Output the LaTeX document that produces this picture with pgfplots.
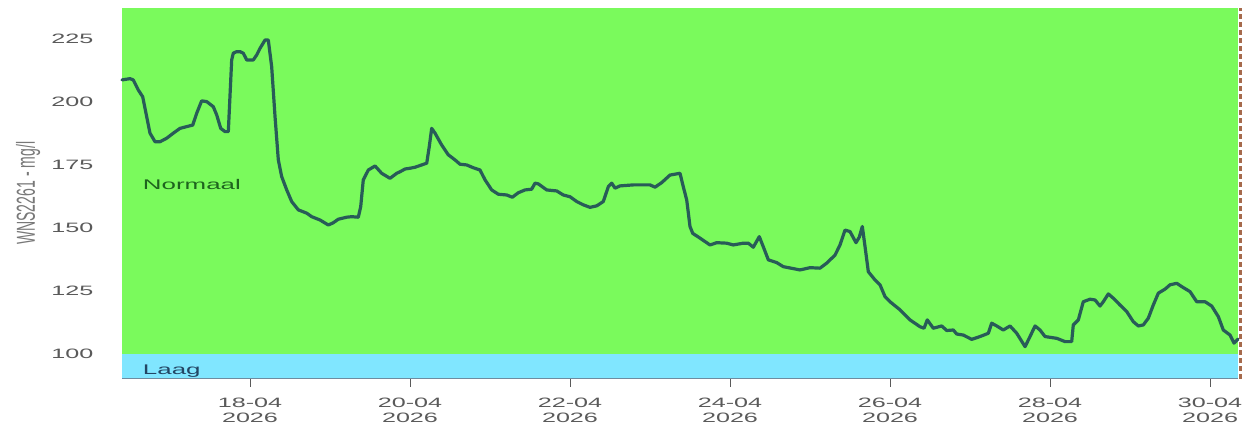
\documentclass[border=0pt]{standalone}
\usepackage{fontspec}
\setmainfont{Liberation Sans}
\newfontfamily\widefont[FakeStretch=1.85]{Liberation Sans}
\newfontfamily\narrowfont[FakeStretch=0.54]{Liberation Sans}
\usepackage{pgfplots}
\pgfplotsset{compat=1.18}
\definecolor{bgnormal}{RGB}{122,250,92}
\definecolor{bglaag}{RGB}{128,230,255}
\definecolor{serie}{RGB}{40,92,88}
\definecolor{labelgray}{RGB}{90,90,90}
\definecolor{ylabgray}{RGB}{120,120,120}
\definecolor{normaltext}{RGB}{30,100,30}
\definecolor{laagtext}{RGB}{35,70,100}
\definecolor{axisline}{RGB}{110,140,160}
\definecolor{nowline}{RGB}{150,80,45}
\begin{document}
\begin{tikzpicture}
\useasboundingbox (-122pt,-49.3pt) rectangle (1130pt,378.7pt);
\begin{axis}[
  at={(0,0)}, anchor=south west,
  scale only axis, width=1116pt, height=370.7pt,
  xmin=16.4, xmax=30.35, ymin=90.3, ymax=237.2,
  axis x line=bottom, axis y line=left,
  x axis line style={-, draw=axisline, line width=1pt},
  y axis line style={draw=none},
  axis on top=true,
  tick align=outside, major tick length=8pt,
  xtick={18,20,22,24,26,28,30},
  xticklabels={{18-04\\2026},{20-04\\2026},{22-04\\2026},{24-04\\2026},{26-04\\2026},{28-04\\2026},{30-04\\2026}},
  xticklabel style={align=center, font=\widefont\fontsize{13.6}{15}\selectfont, text=labelgray, yshift=-8pt},
  xtick style={draw=labelgray, line width=1pt},
  ytick={100,125,150,175,200,225},
  ytick style={draw=none},
  yticklabel style={font=\widefont\fontsize{13.6}{15}\selectfont, text=labelgray, xshift=-17pt},
  /pgf/number format/assume math mode=true,
  ylabel={WNS2261 - mg/l},
  ylabel style={at={(axis description cs:-0.084,0.5)}, anchor=center, font=\narrowfont\fontsize{26}{30}\selectfont, text=ylabgray},
  clip=false,
]
\addplot[draw=none, fill=bgnormal, forget plot] coordinates {(16.4,100) (30.35,100) (30.35,237.2) (16.4,237.2)} -- cycle;
\addplot[draw=none, fill=bglaag, forget plot] coordinates {(16.4,90.3) (30.35,90.3) (30.35,100) (16.4,100)} -- cycle;
\addplot[color=serie, line width=3.2pt, line join=round, line cap=round, sharp plot] coordinates {
(16.4,208.7) (16.5,209.2) (16.541,208.7) (16.604,204.7) (16.659,202) (16.709,194.1) (16.75,187.6) (16.813,184.2) (16.875,184.2) (16.959,185.6) (17.041,187.6) (17.125,189.5) (17.209,190.2) (17.284,190.8) (17.334,195.5) (17.396,200.4) (17.459,200.1) (17.541,198.1) (17.584,194.8) (17.634,189.5) (17.688,188.2) (17.729,188.2) (17.771,216.6) (17.791,219.3) (17.834,219.9) (17.875,219.9) (17.916,219.3) (17.959,216.6) (18.041,216.6) (18.084,218.6) (18.125,221.2) (18.188,224.5) (18.229,224.5) (18.271,213.9) (18.313,194.1) (18.354,177) (18.396,170.4) (18.459,165.1) (18.521,160.5) (18.604,157.2) (18.709,155.9) (18.771,154.5) (18.875,153.2) (18.979,151.2) (19.041,152.1) (19.104,153.5) (19.209,154.3) (19.271,154.5) (19.354,154.3) (19.384,158.5) (19.416,169.1) (19.479,173) (19.563,174.6) (19.646,171.7) (19.75,169.7) (19.834,171.7) (19.875,172.3) (19.938,173.4) (20.0,173.7) (20.063,174.1) (20.209,175.7) (20.241,182.3) (20.271,189.5) (20.313,187.6) (20.396,182.9) (20.479,179) (20.563,177) (20.625,175.3) (20.709,175) (20.791,173.9) (20.875,173) (20.938,169.1) (21.021,165.1) (21.104,163.4) (21.209,163.1) (21.279,162.2) (21.354,164) (21.438,165.1) (21.521,165.4) (21.563,167.8) (21.604,167.5) (21.709,165.1) (21.834,164.7) (21.916,163.1) (22.0,162.4) (22.084,160.5) (22.166,159.2) (22.25,158.2) (22.334,158.8) (22.416,160.5) (22.479,166.4) (22.521,167.8) (22.563,165.8) (22.625,166.7) (22.791,167.1) (23.0,167.1) (23.063,166.2) (23.146,168) (23.25,171) (23.375,171.7) (23.416,166.4) (23.459,161.1) (23.5,150.6) (23.534,147.9) (23.625,146) (23.75,143.3) (23.834,144.2) (23.959,144) (24.041,143.3) (24.166,144) (24.229,144) (24.291,142.4) (24.366,146.6) (24.416,142.6) (24.479,137.4) (24.584,136.3) (24.666,134.7) (24.875,133.4) (25.0,134.3) (25.125,134.1) (25.209,136.1) (25.313,139.3) (25.375,143.3) (25.438,149.2) (25.5,148.6) (25.575,144.2) (25.616,146.4) (25.654,150.6) (25.688,142.6) (25.729,132.7) (25.813,129.4) (25.875,127.5) (25.938,122.8) (26.0,120.8) (26.125,117.6) (26.25,113.6) (26.375,110.9) (26.425,110.3) (26.466,113.6) (26.541,110.3) (26.646,111.2) (26.709,109.4) (26.791,109.6) (26.834,108) (26.916,107.6) (27.021,105.9) (27.125,107) (27.229,108.3) (27.271,112.3) (27.334,111.2) (27.416,109.6) (27.5,111.2) (27.584,108.3) (27.688,103) (27.75,107) (27.813,111.2) (27.875,109.6) (27.938,107) (28.084,106.3) (28.188,105) (28.271,105) (28.291,111.6) (28.354,113.6) (28.416,120.8) (28.5,121.8) (28.563,121.5) (28.625,119.1) (28.666,120.8) (28.729,123.9) (28.791,122.2) (28.875,119.5) (28.959,116.9) (29.041,112.9) (29.104,111.2) (29.166,111.6) (29.229,114.3) (29.291,119.5) (29.354,124.2) (29.438,125.8) (29.5,127.5) (29.584,128.1) (29.646,126.8) (29.75,124.8) (29.834,120.8) (29.938,120.8) (30.021,119.1) (30.104,114.9) (30.166,109.6) (30.25,107.6) (30.3,104.4) (30.35,106)
};
\addplot[color=nowline, opacity=0.85, line width=2pt, dash pattern=on 5pt off 3pt, forget plot] coordinates {(30.381,90.3) (30.381,237.2)};
\node[anchor=base west, font=\widefont\fontsize{14}{16}\selectfont, text=normaltext, inner sep=0pt] at (axis cs:16.66,165.4) {Normaal};
\node[anchor=base west, font=\widefont\fontsize{14}{16}\selectfont, text=laagtext, inner sep=0pt] at (axis cs:16.66,92.1) {Laag};
\end{axis}
\end{tikzpicture}
\end{document}
